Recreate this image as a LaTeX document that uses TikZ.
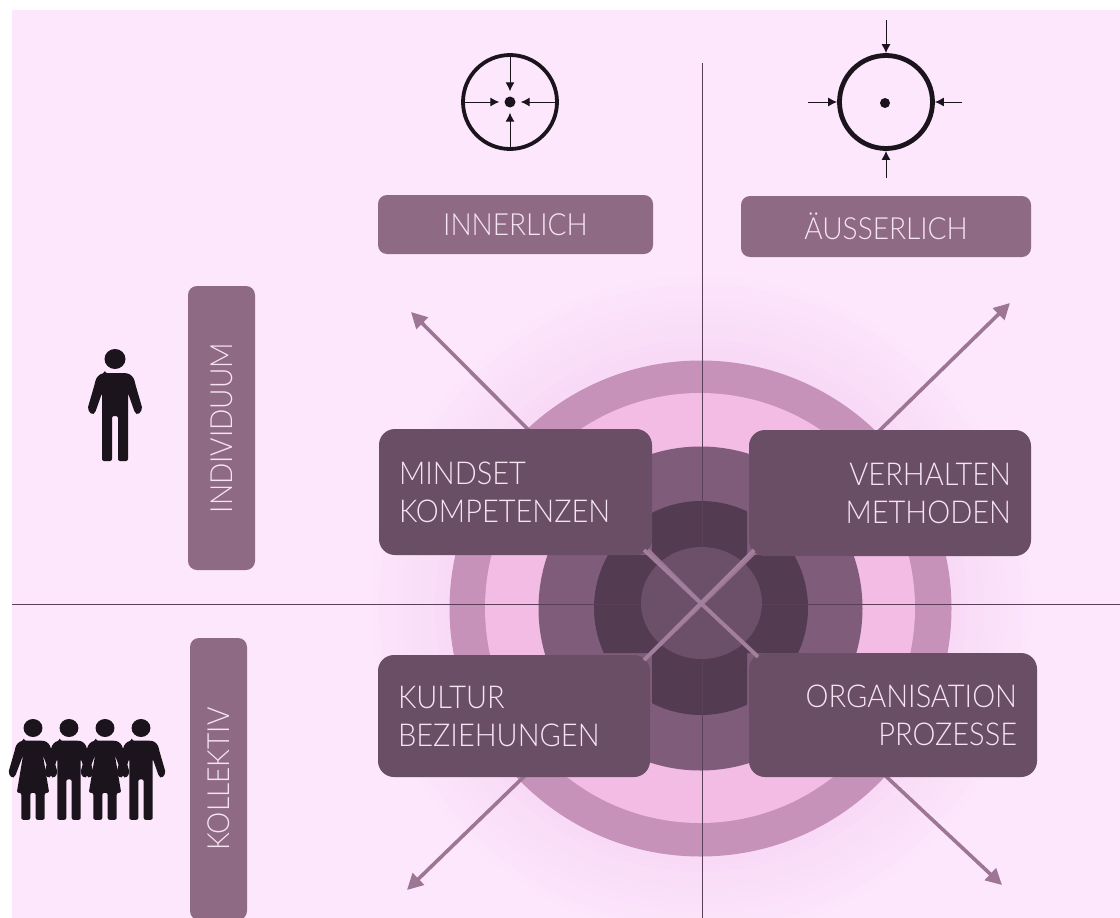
\documentclass[tikz,border=0pt]{standalone}
\usepackage{fontspec}
\setmainfont[FakeStretch=0.92]{Lato Light}
\usetikzlibrary{arrows.meta}
\definecolor{bgpink}{HTML}{FCE7FC}
\definecolor{glowpink}{HTML}{F9DAF6}
\definecolor{ringc}{HTML}{C692B9}
\definecolor{innerpink}{HTML}{F3BCE4}
\definecolor{midc}{HTML}{805C7B}
\definecolor{darkc}{HTML}{533B52}
\definecolor{corec}{HTML}{6C4F69}
\definecolor{cardc}{HTML}{6A4E66}
\definecolor{boxc}{HTML}{8F6A85}
\definecolor{arrowc}{HTML}{9C7694}
\definecolor{crossc}{HTML}{A27F9C}
\definecolor{linec}{HTML}{5A4058}
\definecolor{textc}{HTML}{F6E4F3}
\definecolor{inkc}{HTML}{1C141C}
\tikzset{
  labelbox/.style={fill=boxc,rounded corners=9pt,text=textc,inner sep=0pt,font=\fontsize{30.5}{34}\selectfont},
  card/.style={fill=cardc,rounded corners=16pt,text=textc,inner ysep=0pt,inner xsep=20pt,font=\fontsize{31.5}{38}\selectfont},
  quad/.style={draw=linec,line width=0.9pt},
  bigarrow/.style={draw=arrowc,line width=3.6pt,-{Triangle[length=16pt,width=16pt]}},
  crossline/.style={draw=crossc,line width=3.6pt},
  thinarrow/.style={draw=inkc,line width=1pt,-{Latex[length=9pt,width=9pt]}},
  dotnode/.style={circle,fill=inkc,inner sep=0pt,minimum size=11pt},
  man/.pic={
    \fill[inkc] (0,0) ellipse (10.5 and 10);
    \fill[inkc,rounded corners=2pt] (-10,14) -- (10,14) .. controls (16,15) and (19,19) .. (20,24) -- (27.5,50) -- (23,56) -- (20,54) -- (13,34) -- (13,102) -- (3,102) -- (3,57) -- (-3,57) -- (-3,102) -- (-13,102) -- (-13,34) -- (-20,54) -- (-23,56) -- (-27.5,50) -- (-20,24) .. controls (-19,19) and (-16,15) .. (-10,14) -- cycle;
  },
  woman/.pic={
    \fill[inkc] (0,0) ellipse (10.5 and 10);
    \fill[inkc,rounded corners=2pt] (-10,14) -- (10,14) .. controls (16,15) and (19,19) .. (20,24) -- (27.5,50) -- (23,56) -- (20,54) -- (11,30) -- (18,72) -- (13,72) -- (13,102) -- (3,102) -- (3,72) -- (-3,72) -- (-3,102) -- (-13,102) -- (-13,72) -- (-18,72) -- (-11,30) -- (-20,54) -- (-23,56) -- (-27.5,50) -- (-20,24) .. controls (-19,19) and (-16,15) .. (-10,14) -- cycle;
  }
}
\begin{document}
\begin{tikzpicture}[x=1pt,y=-1pt]
\useasboundingbox (0,0) rectangle (1120,918);
\fill[white] (0,0) rectangle (1120,918);
\fill[bgpink] (12,10) rectangle (1120,918);
\coordinate (c) at (702,604);
\coordinate (tlend) at (411,312);
\coordinate (trend) at (1010,303);
\coordinate (blend) at (407,890);
\coordinate (brend) at (1002,885);
\coordinate (qtop) at (702,63);
\coordinate (qbot) at (702,918);
\coordinate (qleft) at (12,604);
\coordinate (qright) at (1120,604);
\coordinate (xa) at (644,550);
\coordinate (xb) at (758,657);
\coordinate (xc) at (754,550);
\coordinate (xd) at (644,660);
\begin{scope}
  \clip (12,10) rectangle (1120,918);
  \foreach \r/\t in {330/10,322/20,314/30,306/40,298/50,290/60,282/70,274/80,266/90,258/100} {
    \fill[glowpink!\t!bgpink] (701,606) circle (\r);
  }
  \fill[ringc] (700.5,608.5) ellipse (251 and 248);
  \fill[innerpink] (700,608) circle (215);
  \fill[midc] (700.5,608.5) circle (162);
  \begin{scope}
    \clip (652,400) rectangle (747,800) (560,555) rectangle (850,653);
    \fill[darkc] (701,608) circle (107);
  \end{scope}
  \draw[quad] (qtop) -- (qbot);
  \draw[quad] (qleft) -- (qright);
  \fill[corec] (701.5,603) ellipse (60.5 and 56);
\end{scope}
\draw[bigarrow] (c) -- (tlend);
\draw[bigarrow] (c) -- (trend);
\draw[bigarrow] (c) -- (blend);
\draw[bigarrow] (c) -- (brend);
% cards
\node[card,minimum width=273pt,minimum height=126pt,text width=233pt,align=left] (mind) at (515.5,492) {MINDSET\\KOMPETENZEN};
\node[card,minimum width=282pt,minimum height=126pt,text width=242pt,align=right] (verh) at (890,493) {VERHALTEN\\METHODEN};
\node[card,minimum width=272pt,minimum height=122pt,text width=232pt,align=left] (kult) at (514,716) {KULTUR\\BEZIEHUNGEN};
\node[card,minimum width=288pt,minimum height=124pt,text width=248pt,align=right] (orga) at (893,715) {ORGANISATION\\PROZESSE};
\draw[crossline] (xa) -- (xb);
\draw[crossline] (xc) -- (xd);
% top labels
\node[labelbox,minimum width=275pt,minimum height=59pt] (inner) at (515.5,224.5) {INNERLICH};
\node[labelbox,minimum width=290pt,minimum height=61pt] (auss) at (886,226.5) {ÄUSSERLICH};
\node[labelbox,rotate=90,minimum width=284pt,minimum height=67pt] (indi) at (221.5,428) {INDIVIDUUM};
\begin{scope}
\clip (12,10) rectangle (1120,918);
\node[labelbox,rotate=90,minimum width=282pt,minimum height=57pt] (koll) at (218.5,779) {KOLLEKTIV};
\end{scope}
% target icons
\node[circle,draw=inkc,line width=3.8pt,minimum size=94pt,inner sep=0pt] (t1) at (510,102) {};
\node[dotnode] (d1) at (510,102) {};
\draw[thinarrow] (t1.north) -- ([yshift=5pt]d1.north);
\draw[thinarrow] (t1.south) -- ([yshift=-5pt]d1.south);
\draw[thinarrow] (t1.west) -- ([xshift=-5pt]d1.west);
\draw[thinarrow] (t1.east) -- ([xshift=5pt]d1.east);
\node[circle,draw=inkc,line width=4.8pt,minimum size=93pt,inner sep=0pt] (t2) at (886,102) {};
\node[dotnode,minimum size=10pt] (d2) at (885,103) {};
\coordinate (an) at (886,20);
\coordinate (as) at (886,178);
\coordinate (aw) at (808,102);
\coordinate (ae) at (962,102);
\draw[thinarrow] (an) -- (t2.north);
\draw[thinarrow] (as) -- (t2.south);
\draw[thinarrow] (aw) -- (t2.west);
\draw[thinarrow] (ae) -- (t2.east);
% people
\pic at (115,359) {man};
\pic[scale=0.9] at (33,728) {woman};
\pic[scale=0.9] at (69,728) {man};
\pic[scale=0.9] at (105,728) {woman};
\pic[scale=0.9] at (141,728) {man};
\end{tikzpicture}
\end{document}
